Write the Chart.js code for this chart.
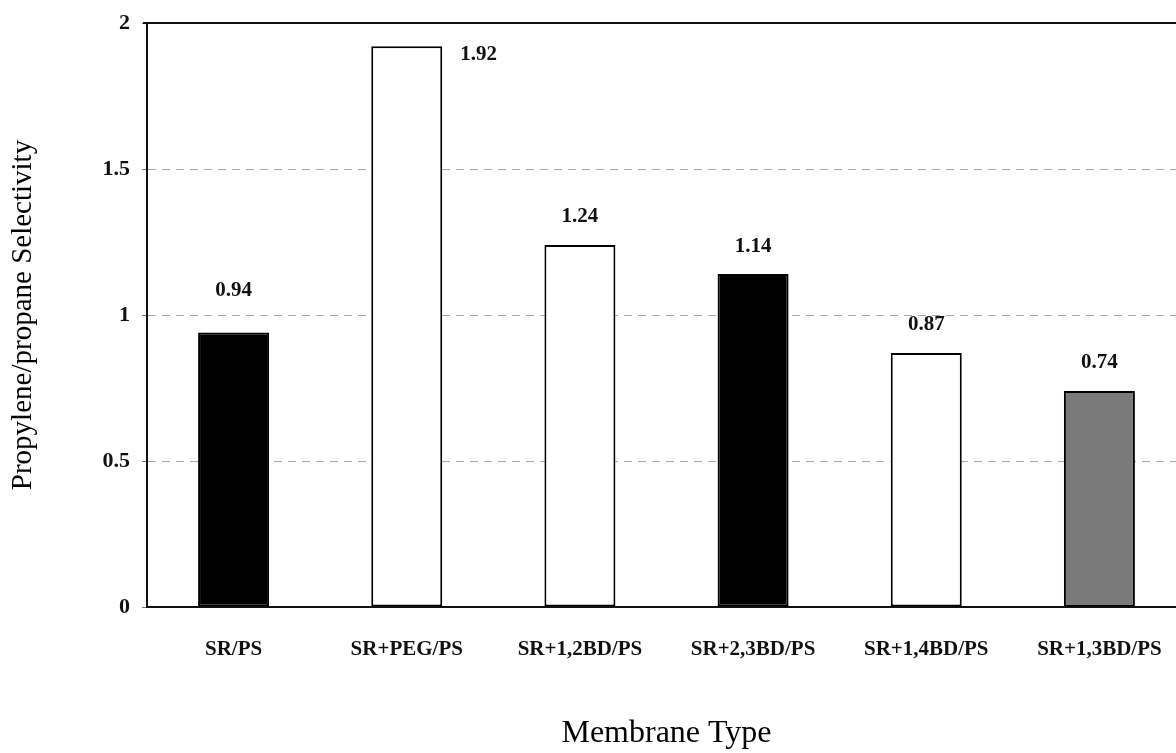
<!DOCTYPE html>
<html>
<head>
<meta charset="utf-8">
<script src="https://cdn.jsdelivr.net/npm/chart.js@4.4.1/dist/chart.umd.min.js"></script>
<style>
  html, body { margin: 0; padding: 0; background: #fff; overflow: hidden; width: 1176px; height: 753px; }
  #wrap { position: relative; width: 1200px; height: 753px; }
</style>
</head>
<body>
<div id="wrap"><canvas id="c"></canvas></div>
<script>
const categories = ['SR/PS', 'SR+PEG/PS', 'SR+1,2BD/PS', 'SR+2,3BD/PS', 'SR+1,4BD/PS', 'SR+1,3BD/PS'];
const selectivity = [0.94, 1.92, 1.24, 1.14, 0.87, 0.74];
const valueLabels = ['0.94', '1.92', '1.24', '1.14', '0.87', '0.74'];
const barColors = ['#000000', '#ffffff', '#ffffff', '#000000', '#ffffff', '#7a7a7a'];
const yTicks = [0, 0.5, 1, 1.5, 2];
const yTickLabels = ['0', '0.5', '1', '1.5', '2'];
const xTitle = 'Membrane Type';
const yTitle = 'Propylene/propane Selectivity';

const SERIF = '"Liberation Serif", "Times New Roman", serif';

const valueLabelPlugin = {
  id: 'valueLabels',
  afterDatasetsDraw(chart) {
    const ctx = chart.ctx;
    const meta = chart.getDatasetMeta(0);
    ctx.save();
    ctx.fillStyle = '#111';
    ctx.font = 'bold 21px ' + SERIF;
    ctx.textBaseline = 'middle';
    meta.data.forEach((bar, i) => {
      if (i === 1) {
        ctx.textAlign = 'left';
        ctx.fillText(valueLabels[i], bar.x + bar.width / 2 + 18, bar.y + 8);
      } else {
        ctx.textAlign = 'center';
        const dy = (i === 0) ? 42 : 28;
        ctx.fillText(valueLabels[i], bar.x, bar.y - dy);
      }
    });
    ctx.restore();
  }
};

const topLinePlugin = {
  id: 'topLine',
  afterDraw(chart) {
    const { ctx, chartArea } = chart;
    ctx.save();
    ctx.strokeStyle = '#111';
    ctx.lineWidth = 2;
    ctx.beginPath();
    ctx.moveTo(chartArea.left - 4, chartArea.top);
    ctx.lineTo(chartArea.right + 20, chartArea.top);
    ctx.stroke();
    ctx.restore();
  }
};

new Chart(document.getElementById('c'), {
  type: 'bar',
  data: {
    labels: categories,
    datasets: [{
      data: selectivity,
      backgroundColor: barColors,
      borderColor: '#000',
      borderWidth: 2,
      borderSkipped: false,
      categoryPercentage: 1,
      barPercentage: 0.41
    }]
  },
  options: {
    responsive: true,
    maintainAspectRatio: false,
    animation: false,
    devicePixelRatio: 1,
    layout: { padding: { top: 23, right: 14, bottom: 0, left: 0 } },
    plugins: {
      legend: { display: false },
      tooltip: { enabled: false }
    },
    scales: {
      x: {
        grid: { display: false },
        border: { display: true, color: '#111', width: 2 },
        ticks: {
          color: '#111',
          padding: 22,
          maxRotation: 0,
          autoSkip: false,
          font: { family: SERIF, size: 21, weight: 'bold' }
        },
        title: {
          display: true,
          text: xTitle,
          color: '#000',
          font: { family: SERIF, size: 32 },
          padding: { top: 0, bottom: 0 }
        },
        afterFit(scale) { scale.height = 146; scale.paddingLeft = 0; scale.paddingRight = 0; }
      },
      y: {
        min: 0,
        max: 2,
        afterBuildTicks(scale) { scale.ticks = yTicks.map(v => ({ value: v })); },
        grid: {
          color: (c) => (c.tick && (c.tick.value === 0 || c.tick.value === 2)) ? 'rgba(0,0,0,0)' : '#a8a8a8',
          lineWidth: 1,
          tickLength: 5,
          tickColor: '#777',
          drawTicks: true
        },
        border: { display: true, color: '#111', width: 2, dash: [8, 6] },
        ticks: {
          color: '#111',
          padding: 12,
          font: { family: SERIF, size: 22, weight: 'bold' },
          callback: (v, i) => yTickLabels[i]
        },
        title: {
          display: true,
          text: yTitle,
          color: '#000',
          font: { family: SERIF, size: 29 },
          padding: { top: 6, bottom: 0 }
        },
        afterFit(scale) { scale.width = 147; scale.paddingTop = 0; scale.paddingBottom = 0; }
      }
    }
  },
  plugins: [valueLabelPlugin, topLinePlugin]
});
</script>
</body>
</html>
